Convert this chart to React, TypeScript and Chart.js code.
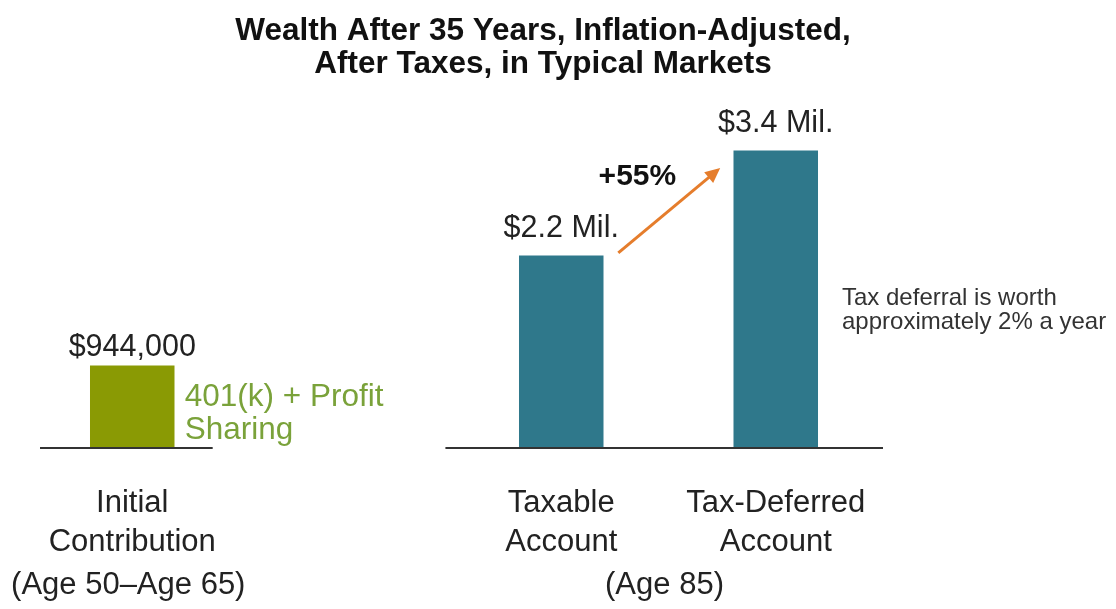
import React, { useEffect, useRef } from "react";
import { Chart, registerables } from "chart.js";

Chart.register(...registerables);

const titleLines = ["Wealth After 35 Years, Inflation-Adjusted,", "After Taxes, in Typical Markets"];
const categories: (string | string[])[] = [["Initial", "Contribution"], "", ["Taxable", "Account"], ["Tax-Deferred", "Account"]];
const valuesMillions: (number | null)[] = [0.944, null, 2.2, 3.4];
const valueLabels = ["$944,000", "", "$2.2 Mil.", "$3.4 Mil."];
const barColors = ["#8a9a04", "rgba(0,0,0,0)", "#2f788b", "#2f788b"];
const groupLabels = ["(Age 50\u2013Age 65)", "(Age 85)"];
const groupCategories = [[0, 0], [2, 3]];
const groupBaselines = [[-0.43, 0.375], [1.46, 3.5]];
const planLabel = ["401(k) + Profit", "Sharing"];
const gainLabel = "+55%";
const noteLines = ["Tax deferral is worth", "approximately 2% a year"];

const FONT = "'Liberation Sans', Arial, sans-serif";
const labelOffsets = [18, 0, 27, 27];

const overlayPlugin = {
  id: "overlay",
  afterDraw(chart: any) {
    const ctx = chart.ctx as CanvasRenderingContext2D;
    const xs = chart.scales.x;
    const ys = chart.scales.y;
    const base = ys.getPixelForValue(0);
    ctx.save();
    // title
    ctx.fillStyle = "#111";
    ctx.font = `bold 31.5px ${FONT}`;
    ctx.textAlign = "center";
    ctx.textBaseline = "middle";
    ctx.fillText(titleLines[0], 543, 31);
    ctx.fillText(titleLines[1], 543, 64);
    // baselines
    ctx.strokeStyle = "#333";
    ctx.lineWidth = 2;
    groupBaselines.forEach(([a, b]) => {
      ctx.beginPath();
      ctx.moveTo(xs.getPixelForValue(a), base);
      ctx.lineTo(xs.getPixelForValue(b), base);
      ctx.stroke();
    });
    // value labels
    ctx.fillStyle = "#222";
    ctx.font = `30.5px ${FONT}`;
    valuesMillions.forEach((v, i) => {
      if (v == null) return;
      ctx.fillText(valueLabels[i], xs.getPixelForValue(i), ys.getPixelForValue(v) - labelOffsets[i]);
    });
    // group labels
    ctx.font = `31px ${FONT}`;
    groupLabels.forEach((t, g) => {
      const [a, b] = groupCategories[g];
      const cx = (xs.getPixelForValue(a) + xs.getPixelForValue(b)) / 2 - 4;
      ctx.fillText(t, cx, 585);
    });
    // plan label
    ctx.fillStyle = "#7aa23a";
    ctx.textAlign = "left";
    ctx.font = `31.5px ${FONT}`;
    ctx.fillText(planLabel[0], xs.getPixelForValue(0.245), ys.getPixelForValue(0.58));
    ctx.fillText(planLabel[1], xs.getPixelForValue(0.245), ys.getPixelForValue(0.2));
    // arrow
    const x1 = xs.getPixelForValue(2.266), y1 = ys.getPixelForValue(2.23);
    const x2 = xs.getPixelForValue(2.741), y2 = ys.getPixelForValue(3.2);
    const ang = Math.atan2(y2 - y1, x2 - x1);
    ctx.strokeStyle = "#e57d2c";
    ctx.fillStyle = "#e57d2c";
    ctx.lineWidth = 3;
    ctx.beginPath();
    ctx.moveTo(x1, y1);
    ctx.lineTo(x2 - 10 * Math.cos(ang), y2 - 10 * Math.sin(ang));
    ctx.stroke();
    ctx.beginPath();
    ctx.moveTo(x2, y2);
    ctx.lineTo(x2 - 15 * Math.cos(ang) + 7 * Math.sin(ang), y2 - 15 * Math.sin(ang) - 7 * Math.cos(ang));
    ctx.lineTo(x2 - 15 * Math.cos(ang) - 7 * Math.sin(ang), y2 - 15 * Math.sin(ang) + 7 * Math.cos(ang));
    ctx.closePath();
    ctx.fill();
    // gain label
    ctx.fillStyle = "#111";
    ctx.font = `bold 30px ${FONT}`;
    ctx.textAlign = "center";
    ctx.fillText(gainLabel, xs.getPixelForValue(2.355), ys.getPixelForValue(3.1));
    // note
    ctx.fillStyle = "#333";
    ctx.font = `24px ${FONT}`;
    ctx.textAlign = "left";
    ctx.fillText(noteLines[0], 842, 298);
    ctx.fillText(noteLines[1], 842, 322);
    ctx.restore();
  },
};

export default function App() {
  const ref = useRef<HTMLCanvasElement>(null);
  useEffect(() => {
    if (!ref.current) return;
    const chart = new Chart(ref.current, {
      type: "bar",
      data: {
        labels: categories as any,
        datasets: [
          {
            data: valuesMillions as any,
            backgroundColor: barColors,
            barPercentage: 0.394,
            categoryPercentage: 1,
          },
        ],
      },
      options: {
        animation: false,
        responsive: false,
        layout: { padding: { left: 25, right: 233, top: 115.5, bottom: 0 } },
        plugins: {
          legend: { display: false },
          tooltip: { enabled: false },
          title: { display: false },
        },
        scales: {
          x: {
            grid: { display: false, drawTicks: false },
            border: { display: false },
            ticks: {
              color: "#222",
              font: { family: FONT, size: 31, lineHeight: 1.25 },
              padding: 36,
              maxRotation: 0,
              autoSkip: false,
            },
            afterFit: (scale: any) => {
              scale.height = 161;
            },
          },
          y: { display: false, min: 0, max: 3.8 },
        },
      },
      plugins: [overlayPlugin],
    });
    return () => chart.destroy();
  }, []);
  return (
    <div style={{ position: "fixed", left: 0, top: 0, width: 1116, height: 609, background: "#fff" }}>
      <canvas ref={ref} width={1116} height={609} />
    </div>
  );
}
